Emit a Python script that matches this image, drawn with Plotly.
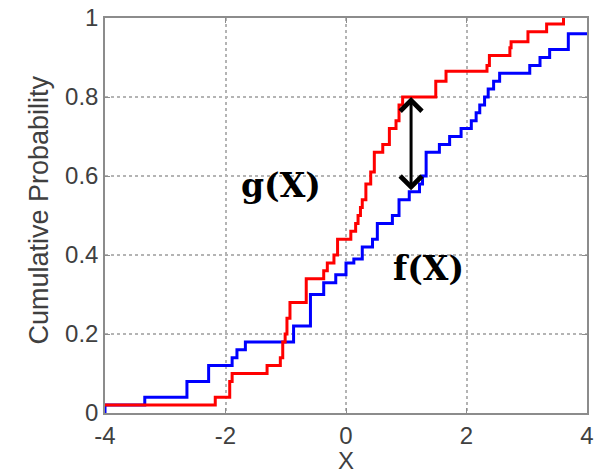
import plotly.graph_objects as go

# f(X): blue empirical CDF (step positions and levels)
f_x = [-4.0, -4.0, -3.34, -2.64, -2.28, -1.89, -1.81, -1.67, -0.87, -0.59,
       -0.37, -0.17, 0.0, 0.13, 0.27, 0.44, 0.52, 0.77, 0.88, 1.05,
       1.22, 1.27, 1.33, 1.55, 1.72, 1.91, 2.08, 2.16, 2.22, 2.30,
       2.36, 2.45, 2.55, 3.05, 3.22, 3.38, 3.69, 4.0]
f_y = [0.0, 0.02, 0.04, 0.08, 0.12, 0.14, 0.16, 0.18, 0.22, 0.30,
       0.33, 0.35, 0.38, 0.39, 0.42, 0.44, 0.48, 0.50, 0.54, 0.56,
       0.58, 0.60, 0.66, 0.68, 0.70, 0.72, 0.74, 0.76, 0.78, 0.80,
       0.82, 0.84, 0.86, 0.88, 0.90, 0.92, 0.96, 0.96]

# g(X): red empirical CDF
g_x = [-4.0, -2.17, -1.93, -1.89, -1.31, -1.09, -1.05, -1.01, -0.98, -0.93,
       -0.66, -0.37, -0.31, -0.20, -0.14, 0.08, 0.16, 0.20, 0.24, 0.27,
       0.33, 0.41, 0.47, 0.61, 0.72, 0.83, 0.88, 0.94, 1.49, 1.66,
       2.34, 2.38, 2.72, 2.74, 3.02, 3.33, 3.61]
g_y = [0.02, 0.04, 0.08, 0.10, 0.12, 0.14, 0.18, 0.20, 0.24, 0.28,
       0.34, 0.36, 0.38, 0.40, 0.44, 0.46, 0.48, 0.50, 0.52, 0.54,
       0.58, 0.61, 0.66, 0.68, 0.72, 0.74, 0.78, 0.80, 0.84, 0.865,
       0.88, 0.905, 0.925, 0.94, 0.965, 0.985, 1.0]

x_ticks = [-4, -2, 0, 2, 4]
x_tick_labels = ["-4", "-2", "0", "2", "4"]
y_ticks = [0, 0.2, 0.4, 0.6, 0.8, 1.0]
y_tick_labels = ["0", "0.2", "0.4", "0.6", "0.8", "1"]
x_title = "X"
y_title = "Cumulative Probability"

arrow_x = 1.08  # where the gap between the two CDFs is marked


def step_value(xs, ys, x0):
    val = ys[0]
    for xi, yi in zip(xs, ys):
        if xi <= x0:
            val = yi
    return val


g_at = step_value(g_x, g_y, arrow_x)
f_at = step_value(f_x, f_y, arrow_x)

fig = go.Figure()
fig.add_trace(go.Scatter(x=f_x, y=f_y, mode="lines", line_shape="hv",
                         line=dict(color="#0000ff", width=3), showlegend=False))
fig.add_trace(go.Scatter(x=g_x, y=g_y, mode="lines", line_shape="hv",
                         line=dict(color="#ff0000", width=3), showlegend=False))

fig.add_annotation(x=arrow_x, y=g_at, ax=arrow_x, ay=f_at,
                   xref="x", yref="y", axref="x", ayref="y",
                   text="", showarrow=True, arrowside="end+start",
                   arrowhead=4, startarrowhead=4, arrowsize=1.4, startarrowsize=1.4,
                   arrowwidth=3, arrowcolor="black")

label_font = dict(family="DejaVu Serif", size=33, color="black", weight="bold")
fig.add_annotation(x=-1.08, y=0.575, xref="x", yref="y", text="g(X)",
                   showarrow=False, font=label_font)
fig.add_annotation(x=1.37, y=0.365, xref="x", yref="y", text="f(X)",
                   showarrow=False, font=label_font)

fig.add_annotation(x=0.5, y=0, xref="paper", yref="paper", yshift=-47,
                   text=x_title, showarrow=False, yanchor="middle",
                   font=dict(family="Liberation Sans, Arial", size=24, color="#404040"))
fig.add_annotation(x=0, y=0.5, xref="paper", yref="paper", xshift=-67, yshift=5,
                   text=y_title, showarrow=False, textangle=-90,
                   xanchor="center", yanchor="middle",
                   font=dict(family="Liberation Sans, Arial", size=27, color="#404040"))

axis_common = dict(showline=True, linecolor="#8c8c8c", linewidth=1.5, mirror="ticks",
                   ticks="inside", ticklen=5, tickcolor="#8c8c8c", tickwidth=1,
                   showgrid=True, gridcolor="#b4b4b4", gridwidth=1.5, griddash="3px,3px",
                   zeroline=False,
                   tickfont=dict(family="Liberation Sans, Arial", size=24, color="#404040"))

fig.update_xaxes(range=[-4, 4], tickvals=x_ticks, ticktext=x_tick_labels, **axis_common)
fig.update_yaxes(range=[0, 1], tickvals=y_ticks, ticktext=y_tick_labels, **axis_common)

fig.update_layout(width=603, height=473, margin=dict(l=105, r=16, t=18, b=60, autoexpand=False),
                  plot_bgcolor="white", paper_bgcolor="white")

fig.write_html("out.html", config={"displayModeBar": False},
               post_script="document.body.style.margin='0';document.body.style.overflow='hidden';")
